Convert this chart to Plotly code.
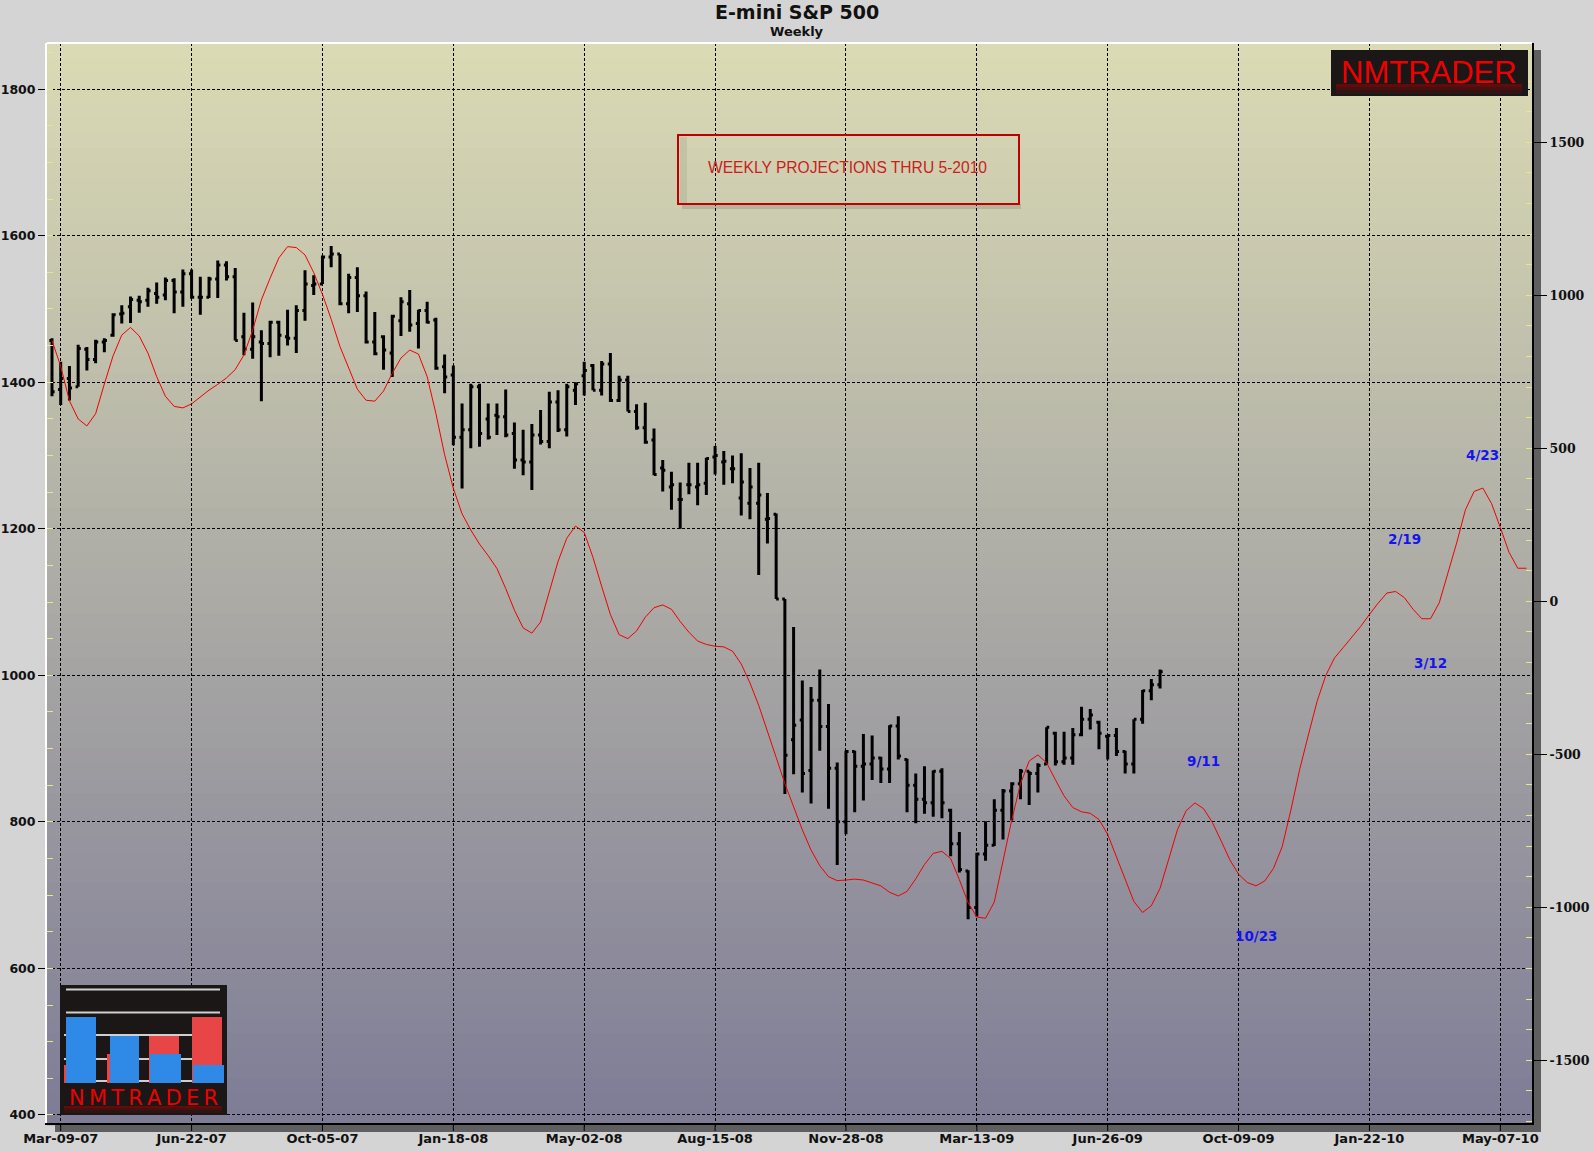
import pandas as pd
import plotly.graph_objects as go

# weekly E-mini S&P 500 bars, first bar = week of 2007-03-02
bar_start = "2007-03-02"
opens = [1457, 1390, 1405, 1394, 1445, 1431, 1455, 1464, 1493, 1503,
         1512, 1512, 1521, 1519, 1539, 1523, 1548, 1516, 1516, 1541,
         1560, 1544, 1462, 1445, 1455, 1453, 1482, 1462, 1460, 1498,
         1532, 1534, 1571, 1575, 1507, 1543, 1518, 1455, 1462, 1440,
         1484, 1507, 1480, 1498, 1485, 1421, 1410, 1325, 1335, 1394,
         1350, 1355, 1353, 1330, 1294, 1291, 1328, 1319, 1373, 1335,
         1389, 1409, 1423, 1389, 1425, 1375, 1403, 1360, 1338, 1321,
         1283, 1257, 1240, 1260, 1257, 1262, 1298, 1291, 1282, 1242,
         1235, 1235, 1213, 1220, 1104, 912, 939, 870, 966, 930,
         873, 800, 896, 876, 879, 887, 872, 931, 885, 850,
         831, 826, 869, 816, 770, 733, 683, 756, 768, 816,
         842, 852, 869, 866, 879, 921, 882, 887, 919, 940,
         936, 917, 918, 896, 879, 940, 979, 987]
highs = [1460, 1428, 1422, 1451, 1448, 1458, 1460, 1494, 1505, 1517,
         1518, 1529, 1536, 1543, 1542, 1554, 1554, 1544, 1544, 1566,
         1565, 1556, 1495, 1509, 1471, 1484, 1484, 1499, 1505, 1553,
         1546, 1573, 1586, 1575, 1548, 1557, 1524, 1496, 1464, 1492,
         1516, 1526, 1499, 1510, 1488, 1438, 1423, 1371, 1398, 1398,
         1371, 1371, 1390, 1345, 1335, 1343, 1362, 1387, 1389, 1398,
         1400, 1428, 1425, 1429, 1440, 1409, 1409, 1370, 1372, 1337,
         1294, 1278, 1263, 1290, 1290, 1297, 1313, 1306, 1300, 1303,
         1283, 1290, 1249, 1221, 1104, 1066, 993, 984, 1008, 961,
         881, 897, 897, 920, 918, 889, 932, 944, 886, 866,
         876, 870, 873, 818, 786, 734, 758, 801, 831, 845,
         854, 872, 869, 880, 929, 923, 923, 928, 957, 954,
         938, 919, 928, 897, 940, 980, 995, 1008]
lows = [1381, 1369, 1375, 1394, 1416, 1426, 1441, 1462, 1480, 1481,
        1495, 1503, 1507, 1512, 1494, 1503, 1514, 1492, 1515, 1515,
        1539, 1457, 1437, 1432, 1374, 1434, 1436, 1450, 1440, 1484,
        1519, 1534, 1557, 1505, 1494, 1496, 1453, 1437, 1417, 1407,
        1463, 1469, 1446, 1480, 1417, 1385, 1314, 1255, 1310, 1312,
        1322, 1328, 1325, 1282, 1273, 1253, 1315, 1310, 1332, 1326,
        1369, 1382, 1389, 1382, 1373, 1373, 1360, 1335, 1316, 1273,
        1251, 1226, 1200, 1247, 1232, 1246, 1274, 1260, 1262, 1218,
        1213, 1137, 1180, 1104, 838, 865, 840, 825, 897, 818,
        741, 783, 813, 829, 857, 853, 853, 885, 813, 798,
        811, 807, 805, 753, 731, 667, 671, 747, 767, 776,
        802, 831, 823, 840, 878, 877, 878, 878, 917, 926,
        899, 885, 890, 866, 866, 934, 966, 982]
closes = [1387, 1405, 1392, 1446, 1431, 1455, 1457, 1492, 1494, 1513,
          1510, 1525, 1516, 1539, 1523, 1548, 1516, 1516, 1541, 1560,
          1544, 1457, 1445, 1462, 1453, 1482, 1464, 1460, 1498, 1534,
          1534, 1571, 1575, 1507, 1543, 1518, 1455, 1439, 1444, 1490,
          1510, 1478, 1498, 1482, 1419, 1407, 1325, 1335, 1394, 1330,
          1325, 1353, 1328, 1294, 1291, 1328, 1319, 1373, 1335, 1394,
          1398, 1416, 1389, 1425, 1375, 1403, 1360, 1338, 1318, 1274,
          1280, 1260, 1240, 1260, 1260, 1296, 1300, 1292, 1282, 1264,
          1257, 1246, 1214, 1104, 891, 932, 866, 966, 930, 873,
          800, 896, 876, 879, 887, 872, 931, 890, 850, 831,
          826, 869, 826, 770, 735, 683, 756, 768, 816, 842,
          852, 869, 866, 877, 929, 882, 887, 919, 940, 946,
          921, 918, 896, 879, 940, 979, 987, 1005]

# weekly projection curve (right scale), 2007-03-02 .. 2010-05-28
proj_start = "2007-03-02"
projection = [852, 768, 655, 596, 573, 613, 710, 802, 870, 895,
              867, 811, 734, 670, 637, 632, 645, 668, 690, 709,
              730, 757, 805, 886, 985, 1056, 1122, 1159, 1156, 1132,
              1074, 1003, 922, 833, 765, 693, 657, 654, 687, 745,
              795, 821, 808, 734, 614, 479, 369, 286, 233, 187,
              149, 107, 42, -29, -87, -104, -68, 27, 130, 206,
              246, 225, 144, 49, -43, -109, -122, -97, -52, -21,
              -12, -26, -66, -101, -130, -141, -147, -149, -163, -205,
              -267, -340, -422, -510, -596, -672, -747, -813, -864, -900,
              -913, -911, -908, -911, -921, -930, -951, -963, -948, -907,
              -860, -824, -817, -841, -910, -985, -1032, -1036, -983, -850,
              -715, -597, -522, -502, -528, -583, -636, -674, -688, -693,
              -713, -762, -837, -912, -981, -1017, -995, -938, -842, -746,
              -684, -659, -678, -723, -783, -845, -892, -919, -930, -914,
              -873, -802, -682, -550, -437, -327, -242, -185, -151, -117,
              -82, -43, -6, 27, 32, 12, -26, -57, -57, -5,
              92, 191, 299, 359, 370, 319, 241, 160, 108, 108]

# projected turning dates written on the chart
turn_labels = ["9/11", "10/23", "2/19", "3/12", "4/23"]
turn_dates = ["2009-09-11", "2009-10-23", "2010-02-19", "2010-03-12", "2010-04-23"]
turn_levels = [-521, -1095, 205, -203, 477]

tick_dates = ["2007-03-09", "2007-06-22", "2007-10-05", "2008-01-18", "2008-05-02", "2008-08-15",
              "2008-11-28", "2009-03-13", "2009-06-26", "2009-10-09", "2010-01-22", "2010-05-07"]
tick_labels = ["Mar-09-07", "Jun-22-07", "Oct-05-07", "Jan-18-08", "May-02-08", "Aug-15-08",
               "Nov-28-08", "Mar-13-09", "Jun-26-09", "Oct-09-09", "Jan-22-10", "May-07-10"]
left_ticks = [400, 600, 800, 1000, 1200, 1400, 1600, 1800]
right_ticks = [-1500, -1000, -500, 0, 500, 1000, 1500]
right_tick_text = ["-1500", "-1000", "-500", "0", "500", "1000", "1500"]

bar_dates = pd.date_range(bar_start, periods=len(closes), freq="7D")
proj_dates = pd.date_range(proj_start, periods=len(projection), freq="7D")

# page geometry (pixels) -> paper coordinates
W, H = 1594, 1151
L, R, T, B = 47, 1532, 43, 1123


def px(x):
    return (x - L) / (R - L)


def py(y):
    return (B - y) / (B - T)


def box(x0, y0, x1, y1, fill, layer="above"):
    return dict(type="rect", xref="paper", yref="paper", x0=px(x0), x1=px(x1),
                y0=py(y1), y1=py(y0), fillcolor=fill, line=dict(width=0), layer=layer)


fig = go.Figure()

fig.add_trace(go.Ohlc(
    x=bar_dates, open=opens, high=highs, low=lows, close=closes,
    increasing=dict(line=dict(color="black", width=3)),
    decreasing=dict(line=dict(color="black", width=3)),
    tickwidth=0.3, name="ES", showlegend=False,
))
fig.add_trace(go.Scatter(
    x=proj_dates, y=projection, yaxis="y2", mode="lines",
    line=dict(color="#f00000", width=1), name="Projection", showlegend=False,
))

shapes = []
# vertical gradient of the plot area
top_rgb = (219, 219, 181)
bot_rgb = (126, 124, 150)
n = 72
for i in range(n):
    f = (i + 0.5) / n
    c = tuple(round(a + (b - a) * f) for a, b in zip(top_rgb, bot_rgb))
    shapes.append(dict(type="rect", xref="paper", yref="paper", x0=0, x1=1,
                       y0=1 - (i + 1) / n - 0.002, y1=1 - i / n,
                       fillcolor="rgb(%d,%d,%d)" % c, line=dict(width=0), layer="below"))

# frame shadow and white top edge
shapes.append(box(1532, 50, 1541, 1132, "#5f5f5f", "below"))
shapes.append(box(55, 1123, 1541, 1132, "#5f5f5f", "below"))
shapes.append(dict(type="line", xref="paper", yref="paper", x0=0, x1=1, y0=1, y1=1,
                   line=dict(color="white", width=2), layer="above"))
# short date ticks inside the bottom shadow band
for d in tick_dates:
    shapes.append(dict(type="line", xref="x", yref="paper", x0=d, x1=d,
                       y0=py(1131), y1=py(1123), line=dict(color="black", width=1), layer="above"))

# projection note box
shapes.append(box(682, 204, 1021, 209, "rgba(70,70,50,0.18)", "above"))
shapes.append(box(680, 137, 687, 203, "rgba(70,70,50,0.10)", "above"))
shapes.append(dict(type="rect", xref="paper", yref="paper", x0=px(678), x1=px(1019),
                   y0=py(204), y1=py(135), line=dict(color="#c00000", width=2), layer="above"))

# logo top right
shapes.append(box(1331, 50, 1528, 96, "#1c1717"))
for y0, y1, a in [(84, 87, 0.5), (87, 90, 0.3), (90, 94, 0.15)]:
    shapes.append(box(1336, y0, 1522, y1, "rgba(170,0,0,%.2f)" % a))

# logo bottom left
shapes.append(box(60, 985, 227, 1115, "#1c1717"))
for yl in [989.5, 1012.5]:
    shapes.append(dict(type="line", xref="paper", yref="paper", x0=px(66), x1=px(220),
                       y0=py(yl), y1=py(yl), line=dict(color="#cfcfcf", width=2), layer="above"))
for yl in [1035, 1059, 1081]:
    shapes.append(dict(type="line", xref="paper", yref="paper", x0=px(64), x1=px(222),
                       y0=py(yl), y1=py(yl), line=dict(color="#cfcfcf", width=2), layer="above"))
red, blue = "#e84646", "#2e8ae6"
shapes.append(box(64, 1065, 67, 1083, red))
shapes.append(box(66, 1017, 96, 1083, blue))
shapes.append(box(107, 1054, 110, 1083, red))
shapes.append(box(110, 1036, 139, 1083, blue))
shapes.append(box(149, 1036, 179, 1083, red))
shapes.append(box(150, 1054, 181, 1083, blue))
shapes.append(box(192, 1017, 222, 1083, red))
shapes.append(box(193, 1065, 224, 1083, blue))
for y0, y1, a in [(1106, 1108, 0.5), (1108, 1110, 0.3), (1110, 1113, 0.15)]:
    shapes.append(box(64, y0, 222, y1, "rgba(170,0,0,%.2f)" % a))

annotations = [
    dict(text="E-mini S&P 500", xref="paper", yref="paper", x=px(797), y=py(12),
         showarrow=False, xanchor="center", yanchor="middle",
         font=dict(family="DejaVu Sans", size=19, color="#111111", weight="bold")),
    dict(text="Weekly", xref="paper", yref="paper", x=px(797), y=py(31),
         showarrow=False, xanchor="center", yanchor="middle",
         font=dict(family="DejaVu Sans", size=13, color="#111111", weight="bold")),
    dict(text="WEEKLY PROJECTIONS THRU 5-2010", xref="paper", yref="paper",
         x=px(847), y=py(167), showarrow=False, xanchor="center", yanchor="middle",
         font=dict(family="Liberation Sans", size=15.6, color="#c81e1e")),
    dict(text="NMTRADER", xref="paper", yref="paper", x=px(1429), y=py(72),
         showarrow=False, xanchor="center", yanchor="middle",
         font=dict(family="Liberation Sans", size=31, color="#ee0000")),
    dict(text="N\u2009M\u2009T\u2009R\u2009A\u2009D\u2009E\u2009R", xref="paper", yref="paper",
         x=px(143), y=py(1098), showarrow=False, xanchor="center", yanchor="middle",
         font=dict(family="DejaVu Sans", size=21, color="#ee0000")),
]
for lab, d, lv in zip(turn_labels, turn_dates, turn_levels):
    annotations.append(dict(text=lab, x=d, y=lv, xref="x", yref="y2", showarrow=False,
                            xanchor="center", yanchor="middle",
                            font=dict(family="DejaVu Sans", size=13.5, color="#1414f0", weight="bold")))

grid = dict(showgrid=True, gridcolor="black", gridwidth=1, griddash="3px,2px")

fig.update_layout(
    width=W, height=H, autosize=False,
    margin=dict(l=L, r=W - R, t=T, b=H - B, pad=0, autoexpand=False),
    paper_bgcolor="#d4d4d4", plot_bgcolor="#acab9f",
    showlegend=False,
    shapes=shapes, annotations=annotations,
    xaxis=dict(
        type="date", range=["2007-02-26 00:00", "2010-06-01 10:00"],
        tickmode="array", tickvals=tick_dates, ticktext=tick_labels,
        ticks="outside", ticklen=2, tickcolor="black", tickwidth=1,
        showline=True, linecolor="black", linewidth=2, zeroline=False,
        rangeslider=dict(visible=False), automargin=False,
        tickfont=dict(family="DejaVu Sans", size=13, color="#111111", weight="bold"),
        **grid,
    ),
    yaxis=dict(
        range=[389, 1863], tickmode="array", tickvals=left_ticks,
        ticks="outside", ticklen=7, tickcolor="black", tickwidth=1,
        showline=True, linecolor="white", linewidth=2, zeroline=False, automargin=False,
        tickfont=dict(family="DejaVu Sans", size=12.5, color="#111111", weight="bold"),
        minor=dict(tickmode="linear", tick0=0, dtick=50, ticks="inside", ticklen=6,
                   tickcolor="#e6e690", tickwidth=1, showgrid=False),
        **grid,
    ),
    yaxis2=dict(
        overlaying="y", side="right", range=[-1705, 1824.5],
        tickmode="array", tickvals=right_ticks, ticktext=right_tick_text,
        ticks="outside", ticklen=13, tickcolor="black", tickwidth=1,
        showline=True, linecolor="black", linewidth=2, zeroline=False, showgrid=False,
        automargin=False,
        tickfont=dict(family="DejaVu Serif", size=12.5, color="#111111", weight="bold"),
        minor=dict(tickmode="linear", tick0=0, dtick=100, ticks="inside", ticklen=6,
                   tickcolor="#e6e690", tickwidth=1, showgrid=False),
    ),
)

fig.write_html(
    "out.html",
    config={"displayModeBar": False},
    post_script="document.body.style.margin='0';document.body.style.background='#d4d4d4';"
                "document.body.style.overflow='hidden';",
)
